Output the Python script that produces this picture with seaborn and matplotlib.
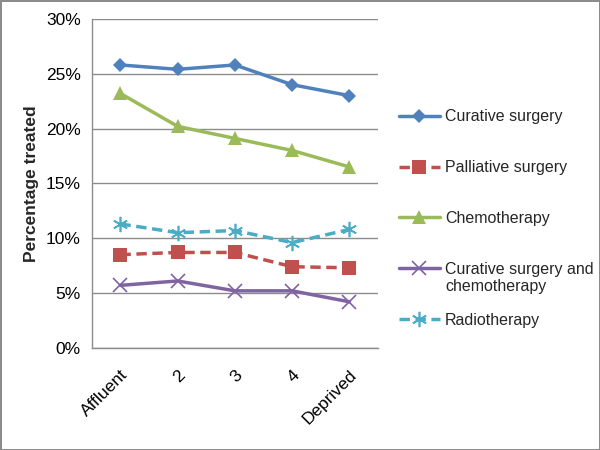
import pandas as pd
import matplotlib.pyplot as plt
import seaborn as sns
from matplotlib.ticker import PercentFormatter

# deprivation groups
groups = ["Affluent", "2", "3", "4", "Deprived"]

curative = [25.8, 25.4, 25.8, 24.0, 23.0]
palliative = [8.5, 8.7, 8.7, 7.4, 7.3]
chemo = [23.2, 20.2, 19.1, 18.0, 16.5]
cur_chemo = [5.7, 6.1, 5.2, 5.2, 4.2]
radio = [11.3, 10.5, 10.7, 9.6, 10.8]

series = ["Curative surgery", "Palliative surgery", "Chemotherapy",
          "Curative surgery and chemotherapy", "Radiotherapy"]
values = [curative, palliative, chemo, cur_chemo, radio]

rows = []
for name, vals in zip(series, values):
    for i, v in enumerate(vals):
        rows.append({"pos": i, "treatment": name, "pct": v})
df = pd.DataFrame(rows)

colors = ["#4F81BD", "#C0504D", "#9BBB59", "#8064A2", "#4BACC6"]
markers = ["D", "s", "^", "x", (6, 2, 0)]
msizes = [7, 10, 10, 10, 11]
dashed = [False, True, False, False, True]

sns.set_style("white")
plt.rcParams["font.family"] = ["Liberation Sans", "DejaVu Sans"]

fig = plt.figure(figsize=(6, 4.5), dpi=100, edgecolor="#8c8c8c", linewidth=2)
ax = fig.add_axes([0.153, 0.227, 0.477, 0.731])

for name, col, mk, ms, ds in zip(series, colors, markers, msizes, dashed):
    sub = df[df["treatment"] == name]
    sns.lineplot(data=sub, x="pos", y="pct", ax=ax, color=col, marker=mk,
                 markersize=ms, linewidth=2.5, label=name,
                 linestyle=(0, (3, 1.6)) if ds else "-",
                 markeredgecolor=col, markeredgewidth=1.2 if mk in ("x",) or isinstance(mk, tuple) else 0)

ax.set_xlim(-0.5, 4.5)
ax.set_ylim(0, 30)
ax.set_yticks(range(0, 31, 5))
ax.yaxis.set_major_formatter(PercentFormatter(decimals=0))
ax.set_xticks(range(len(groups)))
ax.set_xticklabels(groups, rotation=45, ha="right", rotation_mode="anchor")
ax.tick_params(axis="both", labelsize=12.5, colors="#000000", length=0)
ax.tick_params(axis="x", pad=14)
ax.tick_params(axis="y", pad=8)
ax.set_xlabel("")
ax.set_ylabel("Percentage treated", fontsize=12.5, fontweight="bold", labelpad=5)
ax.grid(axis="y", color="#8c8c8c", linewidth=1)
ax.set_axisbelow(True)
for s in ["top", "right"]:
    ax.spines[s].set_visible(False)
for s in ["left", "bottom"]:
    ax.spines[s].set_color("#8c8c8c")
    ax.spines[s].set_linewidth(1)

# legend: 4th label wraps, handle stays level with its first line
handles, labels = ax.get_legend_handles_labels()
labels = [l.replace(" chemotherapy", "") if "and" in l else l for l in labels]
leg = ax.legend(handles, labels, loc="upper left", bbox_to_anchor=(1.05, 0.745),
                frameon=False, fontsize=11.5, handlelength=2.6, handletextpad=0.3,
                labelspacing=2.25, borderaxespad=0)
fig.canvas.draw()
t4 = leg.get_texts()[3]
bb = t4.get_window_extent().transformed(fig.transFigure.inverted())
fig.text(bb.x0, bb.y0 - 0.005, "chemotherapy", fontsize=11.5, va="top", ha="left")

fig.savefig("out.png", dpi=100)
